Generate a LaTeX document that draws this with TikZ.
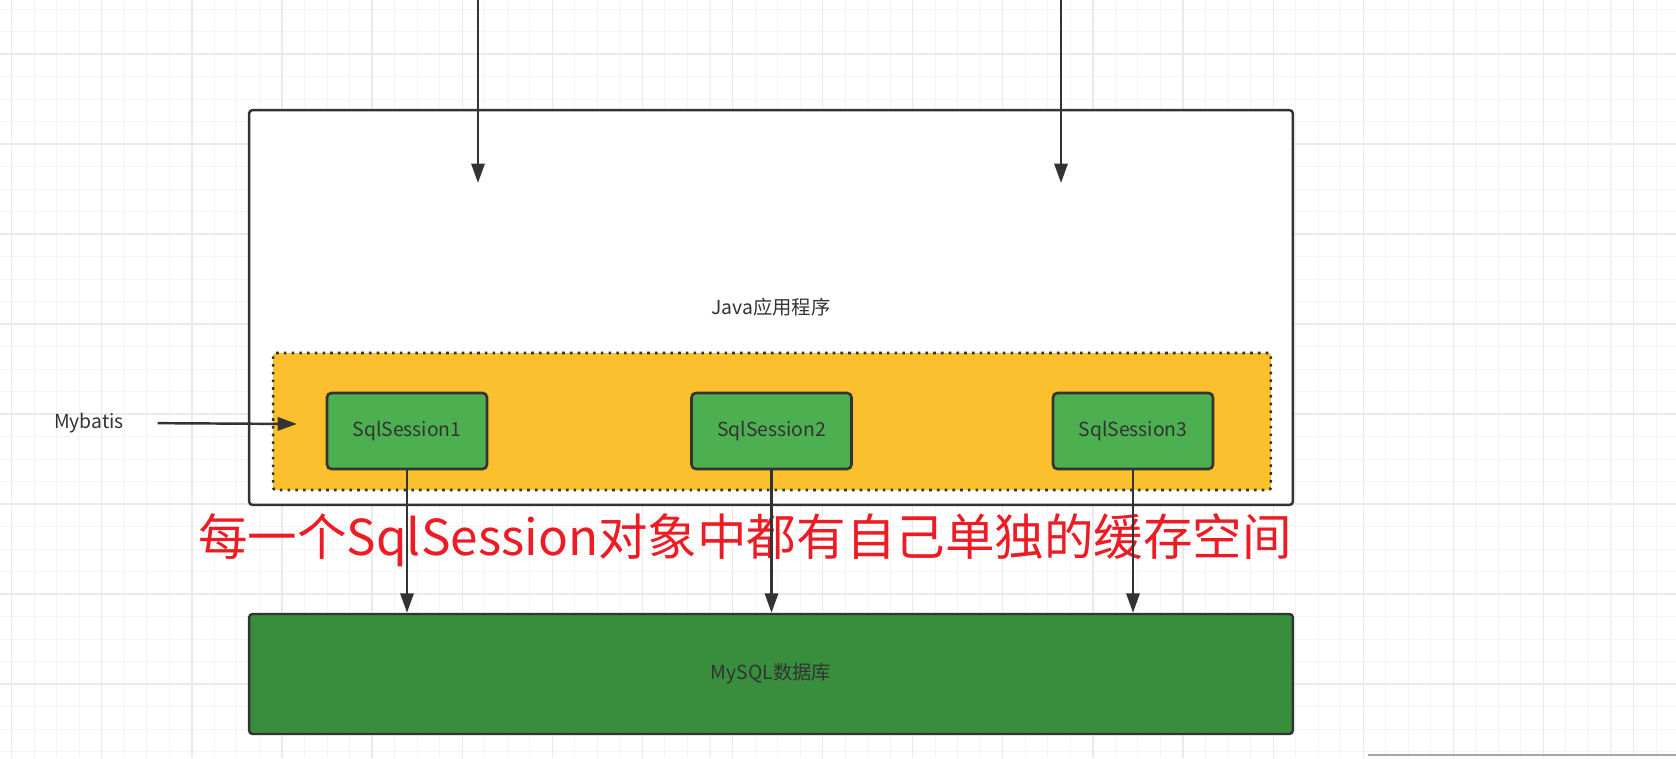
\documentclass[tikz,border=0pt]{standalone}
\usepackage{fontspec}
\setmainfont{Noto Sans CJK SC}
\usetikzlibrary{arrows.meta, positioning}
\definecolor{gridminor}{HTML}{F4F4F4}
\definecolor{gridmajor}{HTML}{EAEAEA}
\definecolor{edge}{HTML}{333333}
\definecolor{cache}{HTML}{FBC02D}
\definecolor{session}{HTML}{4CAF50}
\definecolor{dbgreen}{HTML}{388E3C}
\definecolor{note}{HTML}{ED1C24}

\begin{document}
\begin{tikzpicture}[
    x=0.02cm, y=0.02cm,
    app/.style={rectangle, draw=edge, line width=1.4pt, rounded corners=2pt, fill=white, minimum width=20.88cm, minimum height=7.9cm, font=\fontsize{11}{13}\selectfont, text=edge},
    cachebox/.style={rectangle, draw=edge, line width=1.5pt, dash pattern=on 1.5pt off 2.9pt, rounded corners=1.5pt, fill=cache, minimum width=19.96cm, minimum height=2.74cm},
    sessionbox/.style={rectangle, draw=edge, line width=1.5pt, rounded corners=2.5pt, fill=session, minimum width=3.2cm, minimum height=1.52cm, font=\fontsize{11}{13}\selectfont, text=edge},
    dbbox/.style={rectangle, draw=edge, line width=1.4pt, rounded corners=2pt, fill=dbgreen, minimum width=20.88cm, minimum height=2.4cm, font=\fontsize{11}{13}\selectfont, text=edge},
    arrow/.style={-{Triangle[length=11pt, width=7.5pt]}, line width=1.4pt, draw=edge}
]
\useasboundingbox (0,0) rectangle (1676,758);

% Grid
\fill[white] (0,0) rectangle (1676,758);
\foreach \i in {0,...,73}
    \draw[gridminor, line width=0.6pt] (11.7+22.525*\i,0) -- (11.7+22.525*\i,758);
\foreach \j in {0,...,33}
    \draw[gridminor, line width=0.6pt] (0,748.7-22.5*\j) -- (1676,748.7-22.5*\j);
\foreach \i in {0,...,18}
    \draw[gridmajor, line width=0.7pt] (11.7+90.1*\i,0) -- (11.7+90.1*\i,758);
\foreach \j in {0,...,7}
    \draw[gridmajor, line width=0.7pt] (0,704-90*\j) -- (1676,704-90*\j);
\draw[gray!70, line width=0.8pt] (1368,3) -- (1676,3);

% Boxes
\node[app] (java) at (771,450.5) {Java应用程序};
\node[cachebox] (cache) at (772,336.5) {};
\node[sessionbox] (s1) at (407,327) {SqlSession1};
\node[sessionbox] (s2) at (771.5,327) {SqlSession2};
\node[sessionbox] (s3) at (1133,327) {SqlSession3};
\node[dbbox] (db) at (771,84) {MySQL数据库};

% Labels
\node[font=\fontsize{11}{13}\selectfont, text=edge] (mybatis) at (89,335) {Mybatis};
\node[font=\fontsize{28.2}{33}\selectfont, text=note] (remark) at (745,218) {每一个SqlSession对象中都有自己单独的缓存空间};

% Requests
\coordinate (top1) at (478,758);
\coordinate (in1) at (478,575);
\coordinate (top2) at (1061,758);
\coordinate (in2) at (1061,575);
\coordinate (entry) at (297,334);
\draw[arrow] (top1) -- (in1);
\draw[arrow] (top2) -- (in2);
\draw[arrow, shorten <=0.55cm] (mybatis.east) -- (entry);

% Sessions to database
\draw[arrow] (s1.south) -- (s1.south |- db.north);
\draw[arrow] (s2.south) -- (s2.south |- db.north);
\draw[arrow] (s3.south) -- (s3.south |- db.north);

\end{tikzpicture}
\end{document}
